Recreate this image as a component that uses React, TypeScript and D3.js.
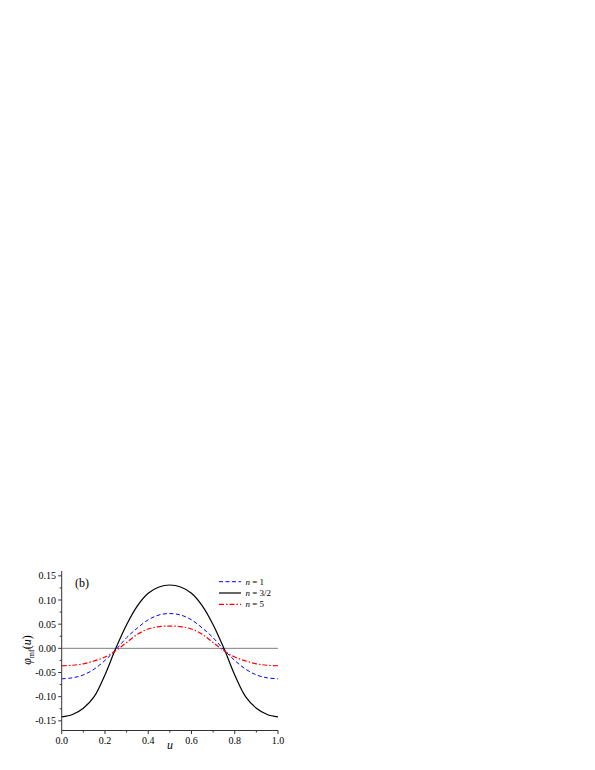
import React from "react";
import * as d3 from "d3";

const uValues = [0, 0.05, 0.1, 0.15, 0.2, 0.25, 0.3, 0.35, 0.4, 0.45, 0.5, 0.55, 0.6, 0.65, 0.7, 0.75, 0.8, 0.85, 0.9, 0.95, 1.0];
const seriesN1 = [-0.063, -0.061, -0.055, -0.043, -0.025, -0.003, 0.022, 0.042, 0.059, 0.069, 0.072, 0.069, 0.059, 0.042, 0.022, -0.003, -0.025, -0.043, -0.055, -0.061, -0.063];
const seriesN32 = [-0.142, -0.137, -0.124, -0.100, -0.055, 0.000, 0.049, 0.088, 0.114, 0.127, 0.131, 0.127, 0.114, 0.088, 0.049, 0.000, -0.055, -0.100, -0.124, -0.137, -0.142];
const seriesN5 = [-0.036, -0.035, -0.032, -0.026, -0.018, -0.005, 0.012, 0.029, 0.040, 0.045, 0.046, 0.045, 0.040, 0.029, 0.012, -0.005, -0.018, -0.026, -0.032, -0.035, -0.036];

const xMajorTicks = [0, 0.2, 0.4, 0.6, 0.8, 1.0];
const xMinorTicks = [0.1, 0.3, 0.5, 0.7, 0.9];
const yMajorTicks = [-0.15, -0.1, -0.05, 0, 0.05, 0.1, 0.15];
const yMinorTicks = [-0.125, -0.075, -0.025, 0.025, 0.075, 0.125];

const legendLabels = ["1", "3/2", "5"];

export default function App() {
  const x = d3.scaleLinear().domain([0, 1]).range([61.7, 278]);
  const y = d3.scaleLinear().domain([-0.17, 0.16]).range([730.5, 571]);
  const line = (vals: number[]) =>
    d3
      .line<number>()
      .x((_, i) => x(uValues[i]))
      .y((v) => y(v))
      .curve(d3.curveCatmullRom.alpha(0.5))(vals) || "";

  const series = [
    { vals: seriesN1, color: "#0000ff", dash: "4,2.5", w: 1 },
    { vals: seriesN32, color: "#000000", dash: "", w: 1.2 },
    { vals: seriesN5, color: "#ff0000", dash: "5,2,1.5,2", w: 1.2 },
  ];

  const font = "'Liberation Serif', 'Times New Roman', serif";
  const x0 = x(0);
  const yb = y(-0.17);

  return (
    <svg width={595} height={770} style={{ position: "absolute", left: 0, top: 0 }} fontFamily={font}>
      <rect x={0} y={0} width={595} height={770} fill="#fff" />
      <line x1={x(0)} x2={x(1)} y1={y(0)} y2={y(0)} stroke="#808080" strokeWidth={1} />
      {series.map((s, i) => (
        <path key={i} d={line(s.vals)} fill="none" stroke={s.color} strokeWidth={s.w} strokeDasharray={s.dash || undefined} />
      ))}
      <line x1={x0} x2={x0} y1={y(0.16)} y2={yb} stroke="#333" strokeWidth={1} />
      <line x1={x0} x2={x(1)} y1={yb} y2={yb} stroke="#333" strokeWidth={1} />
      {yMajorTicks.map((t) => (
        <g key={"ym" + t}>
          <line x1={x0 - 3.5} x2={x0} y1={y(t)} y2={y(t)} stroke="#333" />
          <text x={56} y={y(t) + 3.5} fontSize={10} textAnchor="end">
            {t === 0 ? "0.00" : (t < 0 ? "-" : "") + Math.abs(t).toFixed(2)}
          </text>
        </g>
      ))}
      {yMinorTicks.map((t) => (
        <line key={"yn" + t} x1={x0 - 2} x2={x0} y1={y(t)} y2={y(t)} stroke="#333" />
      ))}
      {xMajorTicks.map((t) => (
        <g key={"xm" + t}>
          <line x1={x(t)} x2={x(t)} y1={yb} y2={yb + 3.5} stroke="#333" />
          <text x={x(t)} y={743.5} fontSize={10} textAnchor="middle">
            {t.toFixed(1)}
          </text>
        </g>
      ))}
      {xMinorTicks.map((t) => (
        <line key={"xn" + t} x1={x(t)} x2={x(t)} y1={yb} y2={yb + 2} stroke="#333" />
      ))}
      <text x={170} y={749} fontSize={12} fontStyle="italic" textAnchor="middle">u</text>
      <text transform={`translate(31,650) rotate(-90)`} fontSize={12} textAnchor="middle">
        <tspan fontStyle="italic">φ</tspan>
        <tspan fontSize={8} dy={2.5}>mf</tspan>
        <tspan dy={-2.5}>(</tspan>
        <tspan fontStyle="italic">u</tspan>
        <tspan>)</tspan>
      </text>
      <text x={75} y={587} fontSize={12}>(b)</text>
      {series.map((s, i) => (
        <g key={"lg" + i}>
          <line x1={219} x2={241} y1={581.7 + i * 11.3} y2={581.7 + i * 11.3} stroke={s.color} strokeWidth={s.w} strokeDasharray={s.dash || undefined} />
          <text x={245.5} y={584.7 + i * 11.3} fontSize={9}>
            <tspan fontStyle="italic">n</tspan>
            <tspan> = {legendLabels[i]}</tspan>
          </text>
        </g>
      ))}
    </svg>
  );
}
